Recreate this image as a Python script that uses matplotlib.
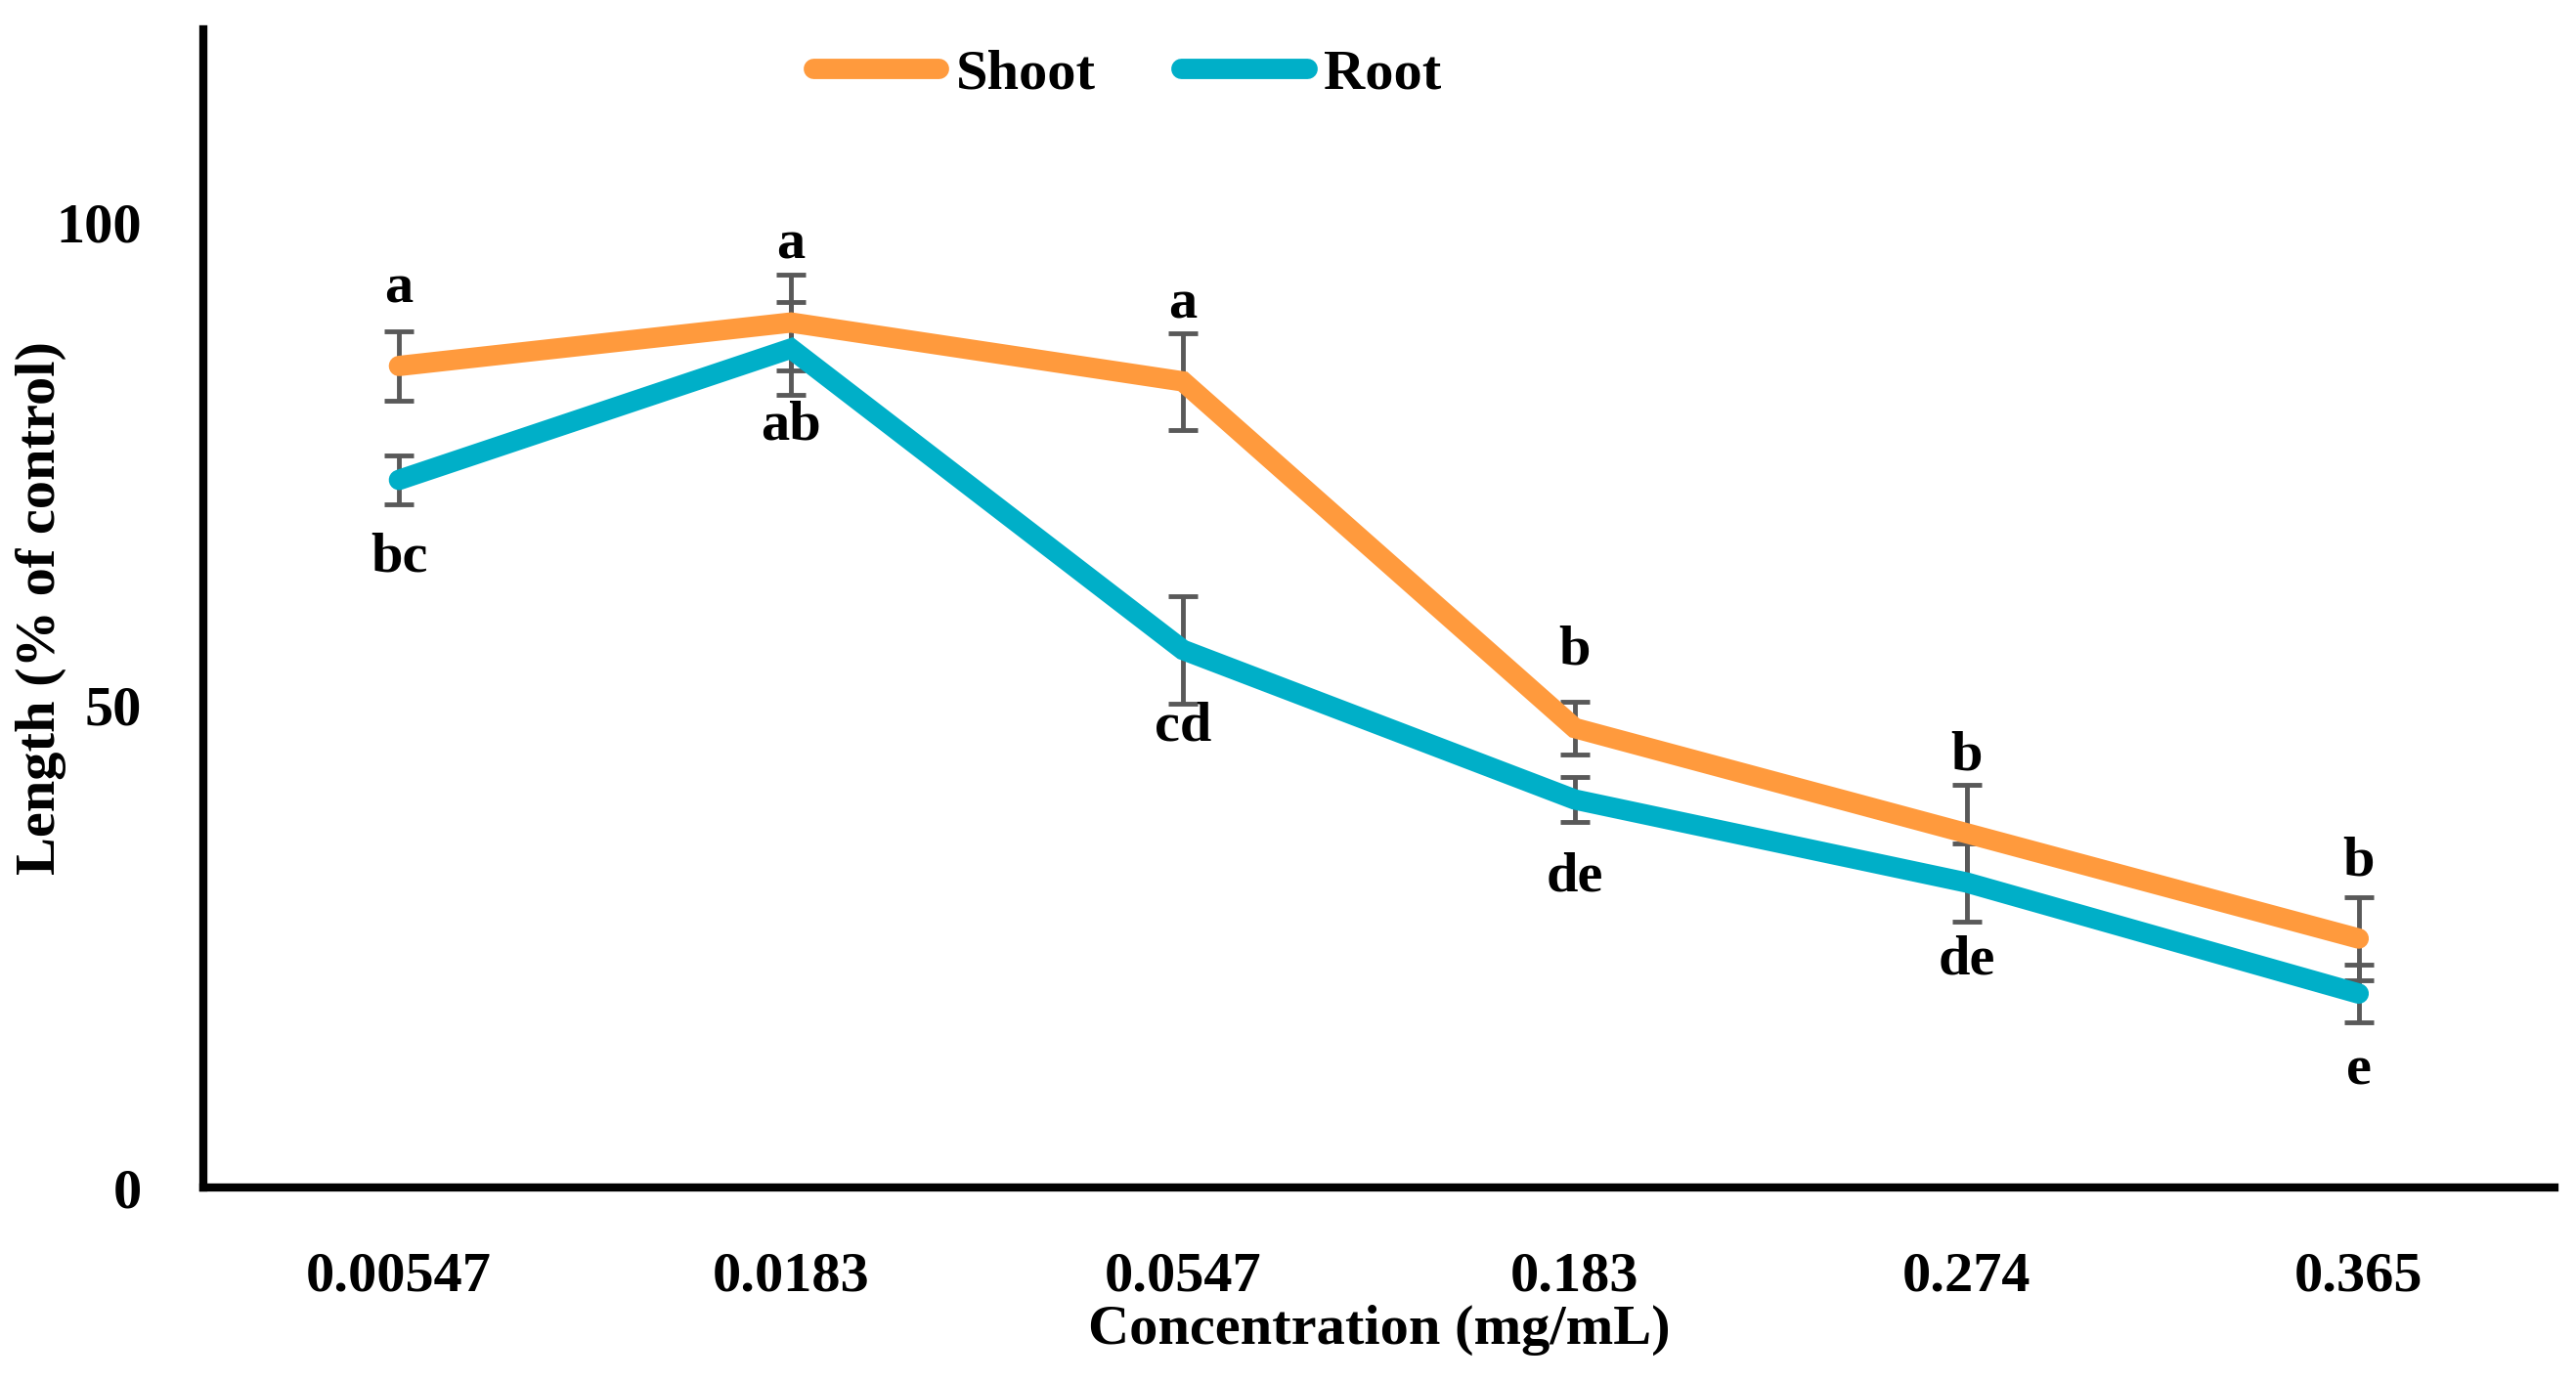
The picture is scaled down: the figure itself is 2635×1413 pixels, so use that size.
import numpy as np
import matplotlib
matplotlib.use("Agg")
import matplotlib.pyplot as plt

plt.rcParams["font.family"] = ["Liberation Serif", "DejaVu Serif"]
plt.rcParams["font.weight"] = "bold"

# data
concentrations = ["0.00547", "0.0183", "0.0547", "0.183", "0.274", "0.365"]
shoot = [85.1, 89.6, 83.5, 47.6, 36.7, 25.8]
shoot_err = [3.6, 5.0, 5.0, 2.7, 5.0, 4.3]
root = [73.3, 86.9, 55.7, 40.2, 31.6, 20.1]
root_err = [2.5, 4.8, 5.6, 2.3, 4.0, 3.0]
shoot_letters = ["a", "a", "a", "b", "b", "b"]
root_letters = ["bc", "ab", "cd", "de", "de", "e"]

SHOOT_C = "#FF9A3D"
ROOT_C = "#00AFC8"
ERR_C = "#595959"
FS = 42

fig = plt.figure(figsize=(26.35, 14.13), dpi=100)
ax = fig.add_axes([0.0788, 0.140, 0.9129, 0.839])

x = np.arange(len(concentrations))

ax.errorbar(x, shoot, yerr=shoot_err, fmt="none", ecolor=ERR_C,
            elinewidth=3.5, capsize=11, capthick=3.5, zorder=2)
ax.errorbar(x, root, yerr=root_err, fmt="none", ecolor=ERR_C,
            elinewidth=3.5, capsize=11, capthick=3.5, zorder=2)

ax.plot(x, shoot, color=SHOOT_C, lw=15, solid_capstyle="round",
        solid_joinstyle="miter", label="Shoot", zorder=3)
ax.plot(x, root, color=ROOT_C, lw=15, solid_capstyle="round",
        solid_joinstyle="miter", label="Root", zorder=3)

# significance letters
for xi, yi, lab in zip(x, shoot, shoot_letters):
    ax.text(xi, yi + 8, lab, ha="center", va="center", fontsize=FS, fontweight="bold")
for xi, yi, lab in zip(x, root, root_letters):
    ax.text(xi, yi - 8, lab, ha="center", va="center", fontsize=FS, fontweight="bold")

ax.set_xlim(-0.5, len(concentrations) - 0.5)
ax.set_ylim(0, 120)
ax.set_xticks(x)
ax.set_xticklabels(concentrations)
ax.set_yticks([0, 50, 100])
ax.tick_params(axis="x", length=0, pad=47, labelsize=FS)
ax.tick_params(axis="y", length=0, pad=45, labelsize=FS)

for sp in ["top", "right"]:
    ax.spines[sp].set_visible(False)
for sp in ["left", "bottom"]:
    ax.spines[sp].set_linewidth(6)
    ax.spines[sp].set_color("black")

ax.set_xlabel("Concentration (mg/mL)", fontsize=FS, fontweight="bold", labelpad=2)
ax.set_ylabel("Length (% of control)", fontsize=FS, fontweight="bold")
ax.yaxis.set_label_coords(-0.058, 0.5)

leg = fig.legend(loc="center left", bbox_to_anchor=(0.3157, 0.946), ncol=2,
                 frameon=False, borderpad=0, borderaxespad=0,
                 handlelength=2.2, handletextpad=0.3, columnspacing=1.5,
                 prop={"size": FS, "weight": "bold"})
for h in leg.get_lines():
    h.set_solid_capstyle("round")

fig.savefig("out.png", dpi=100)
